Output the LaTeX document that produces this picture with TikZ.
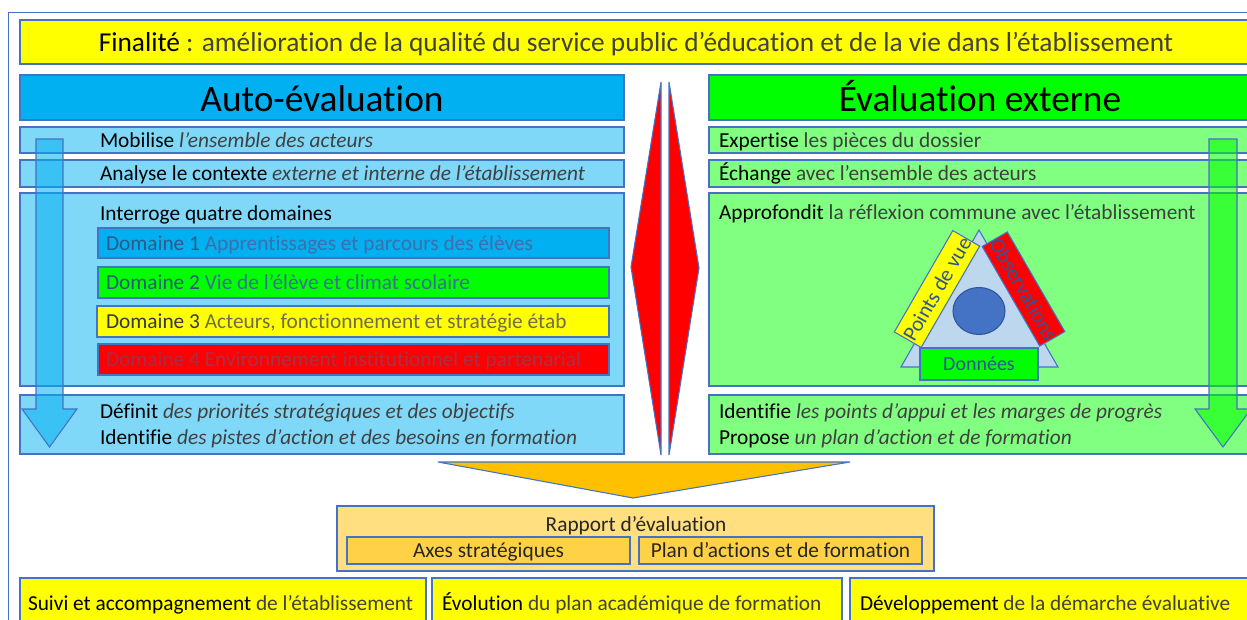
\documentclass[tikz,border=0pt]{standalone}
\usepackage{fontspec}
\setmainfont{Carlito}[Ligatures=NoCommon]
\usetikzlibrary{calc,shapes.geometric}
\definecolor{bord}{HTML}{4472C4}
\definecolor{ylw}{HTML}{FFFF00}
\definecolor{cyanh}{HTML}{00B0F0}
\definecolor{greenh}{HTML}{00FF00}
\definecolor{cyanl}{HTML}{80D8F8}
\definecolor{greenl}{HTML}{80FF80}
\definecolor{gtxt}{HTML}{404040}
\definecolor{tri}{HTML}{BDD7EE}
\definecolor{circ}{HTML}{4472C4}
\definecolor{dblue}{HTML}{2F5597}
\definecolor{orng}{HTML}{FFC000}
\definecolor{orngl}{HTML}{FFDF80}
\definecolor{orngm}{HTML}{FFD147}
\definecolor{dia}{HTML}{FF0000}
\definecolor{dOa}{HTML}{2F5A8C}\definecolor{dOb}{HTML}{3C6FAE}
\definecolor{dTa}{HTML}{2C5A74}\definecolor{dTb}{HTML}{3A7090}
\definecolor{dHa}{HTML}{34364C}\definecolor{dHb}{HTML}{6E6C50}
\definecolor{dFa}{HTML}{A32E4C}\definecolor{dFb}{HTML}{A8304A}
\newcommand\fs[1]{\fontsize{#1}{#1}\selectfont}
\newcommand\Rect[6]{\node[#6,anchor=north west,minimum width={(#4-#2)*0.75pt},minimum height={(#5-#3)*0.75pt},inner sep=0pt,outer sep=0pt] (#1) at (#2,#3) {};}
\tikzset{
  pan/.style={draw=bord,line width=0.8pt},
  txt/.style={inner sep=0pt,outer sep=0pt,anchor=base west,font=\fs{16}},
  ctxt/.style={inner sep=0pt,outer sep=0pt,anchor=base,font=\fs{16}},
}
\begin{document}
\begin{tikzpicture}[x=0.75pt,y=-0.75pt]
\useasboundingbox (0,0) rectangle (1247,619);
\clip (0,0) rectangle (1247,619);
% outer frame
\draw[bord,line width=0.7pt] (8,12) rectangle (1270,660);
% Finalite
\Rect{fin}{20}{20}{1270}{64}{pan,fill=ylw}
\node[ctxt,font=\fs{20.5}] (fint) at (636,51) {Finalité \color{gtxt}: amélioration de la qualité du service public d’éducation et de la vie dans l’établissement};
% headers
\Rect{hauto}{20}{75}{624}{120}{pan,fill=cyanh}
\node[ctxt,font=\fs{28}] (hautot) at (322,111) {Auto-évaluation};
\Rect{hext}{709}{75}{1270}{120}{pan,fill=greenh}
\node[ctxt,font=\fs{28}] (hextt) at (980,111) {Évaluation externe};
% left panels
\Rect{l1}{20}{127}{624}{153}{pan,fill=cyanl}
\Rect{l2}{20}{160}{624}{187}{pan,fill=cyanl}
\Rect{l3}{20}{193}{624}{386}{pan,fill=cyanl}
\Rect{l4}{20}{395}{624}{454}{pan,fill=cyanl}
% right panels
\Rect{r1}{709}{127}{1270}{153}{pan,fill=greenl}
\Rect{r2}{709}{160}{1270}{187}{pan,fill=greenl}
\Rect{r3}{709}{193}{1270}{386}{pan,fill=greenl}
\Rect{r4}{709}{395}{1270}{454}{pan,fill=greenl}
% domain boxes
\Rect{d1}{98}{228}{609}{258}{pan,fill=cyanh}
\Rect{d2}{98}{267}{609}{298}{pan,fill=greenh}
\Rect{d3}{97}{306}{609}{337}{pan,fill=ylw}
\Rect{d4}{98}{344}{609}{375}{pan,fill=dia}
% left texts
\node[txt] (t1) at (100,147) {Mobilise \textit{\color{gtxt}l’ensemble des acteurs}};
\node[txt] (t2) at (100,180.5) {Analyse le contexte \textit{\color{gtxt}externe et interne de l’établissement}};
\node[txt] (t3) at (100,220) {Interroge quatre domaines};
\node[txt] (td1) at (106,250) {\color{dOa}Domaine 1 \color{dOb}Apprentissages et parcours des élèves};
\node[txt] (td2) at (106,289.5) {\color{dTa}Domaine 2 \color{dTb}Vie de l’élève et climat scolaire};
\node[txt] (td3) at (106,328.5) {\color{dHa}Domaine 3 \color{dHb}Acteurs, fonctionnement et stratégie étab};
\node[txt] (td4) at (106,366.5) {\color{dFa}Domaine 4 \color{dFb}Environnement institutionnel et partenarial};
\node[txt] (t4) at (100,418.5) {Définit \textit{\color{gtxt}des priorités stratégiques et des objectifs}};
\node[txt] (t5) at (100,444.5) {Identifie \textit{\color{gtxt}des pistes d’action et des besoins en formation}};
% right texts
\node[txt] (u1) at (719,147) {Expertise \color{gtxt}les pièces du dossier};
\node[txt] (u2) at (719,180.5) {Échange \color{gtxt}avec l’ensemble des acteurs};
\node[txt] (u3) at (719,219) {Approfondit \color{gtxt}la réflexion commune avec l’établissement};
\node[txt] (u4) at (719,418.5) {Identifie \textit{\color{gtxt}les points d’appui et les marges de progrès}};
\node[txt] (u5) at (719,444.5) {Propose \textit{\color{gtxt}un plan d’action et de formation}};
% vertical arrows
\draw[bord,line width=0.8pt,fill=cyanh,fill opacity=0.55] (36,139) -- (63,139) -- (63,409) -- (77,409) -- (49.5,447) -- (22,409) -- (36,409) -- cycle;
\draw[bord,line width=0.8pt,fill=greenh,fill opacity=0.55] (1209,139) -- (1237,139) -- (1237,409) -- (1251,409) -- (1223,447) -- (1195,409) -- (1209,409) -- cycle;
% diamonds
\draw[bord,line width=0.8pt,fill=dia] (661,82) -- (631,267) -- (661,455) -- cycle;
\draw[bord,line width=0.8pt,fill=dia] (669,82) -- (699,268) -- (669,455) -- cycle;
% triangle
\draw[bord,line width=0.8pt,fill=tri] (979,230) -- (901,367) -- (1058,367) -- cycle;
\node[draw=dblue,line width=0.8pt,fill=circ,ellipse,minimum width=52*0.75pt,minimum height=47*0.75pt,inner sep=0pt] (ci) at (979,311) {};
\node[draw=bord,line width=0.8pt,fill=ylw,rotate=60,minimum width=117*0.75pt,minimum height=31*0.75pt,inner sep=0pt,text=dblue,font=\fs{16}] (pv) at (937,289) {Points~de~vue};
\node[draw=bord,line width=0.8pt,fill=dia,rotate=-60,minimum width=115*0.75pt,minimum height=29*0.75pt,inner sep=0pt,text=dblue,font=\fs{16}] (ob) at (1023.5,289) {Observations};
\Rect{don}{920}{348}{1038}{380}{pan,fill=greenh}
\node[ctxt,font=\fs{15},text=dblue] (dont) at (979,370.5) {Données};
% funnel
\draw[bord,line width=0.8pt,fill=orng] (438,462) -- (850,462) -- (633,498) -- cycle;
% rapport
\Rect{rap}{337}{506}{934}{571}{pan,fill=orngl}
\node[ctxt,text=black!85] (rapt) at (636,531) {Rapport d’évaluation};
\Rect{axe}{347}{537}{630}{564}{pan,fill=orngm}
\node[ctxt,text=black!85] (axet) at (488.5,557.5) {Axes stratégiques};
\Rect{pla}{639}{537}{922}{564}{pan,fill=orngm}
\node[ctxt,text=black!85] (plat) at (780.5,557.5) {Plan d’actions et de formation};
% bottom boxes
\Rect{b1}{20}{578}{426}{640}{pan,fill=ylw}
\Rect{b2}{432}{578}{842}{640}{pan,fill=ylw}
\Rect{b3}{850}{578}{1270}{640}{pan,fill=ylw}
\node[txt] (b1t) at (28,610) {Suivi et accompagnement \color{gtxt}de l’établissement};
\node[txt] (b2t) at (442,610) {Évolution \color{gtxt}du plan académique de formation};
\node[txt] (b3t) at (860,610) {Développement \color{gtxt}de la démarche évaluative};
\end{tikzpicture}
\end{document}
